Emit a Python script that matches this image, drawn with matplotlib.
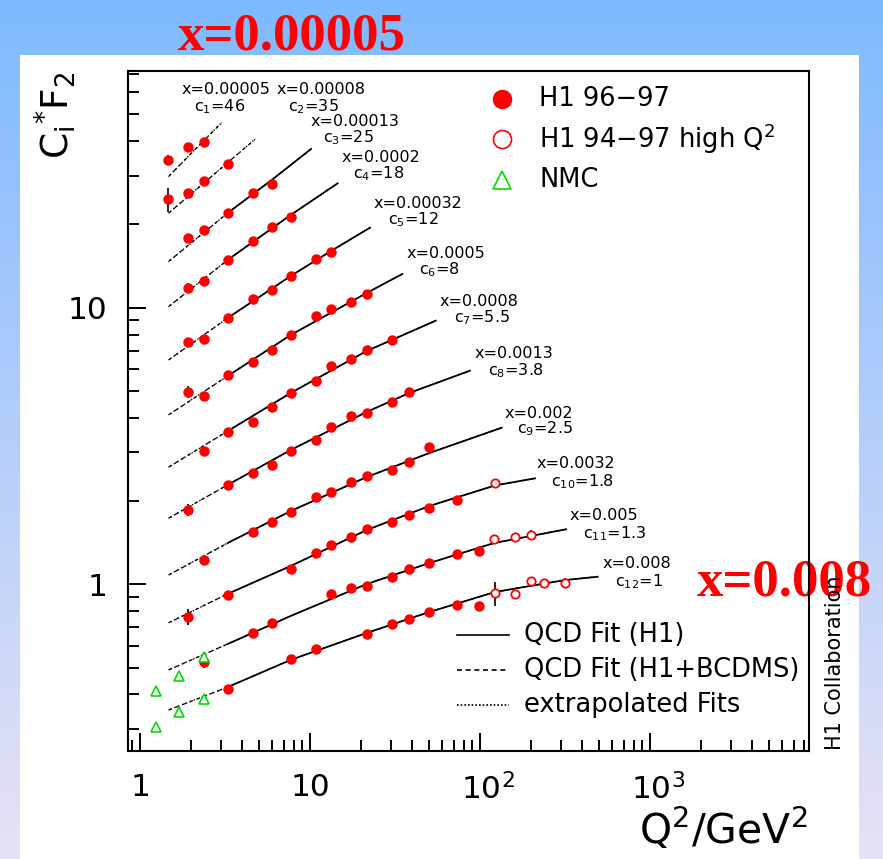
import numpy as np
import matplotlib
matplotlib.use("Agg")
import matplotlib.pyplot as plt
from matplotlib import transforms
from matplotlib.lines import Line2D
from matplotlib.patches import Rectangle

plt.rcParams["font.family"] = ["DejaVu Sans"]
plt.rcParams["mathtext.default"] = "regular"

W, H, DPI = 883, 859, 100

# ---------------- data ----------------
x_bins = ["0.00005", "0.00008", "0.00013", "0.0002", "0.00032", "0.0005",
          "0.0008", "0.0013", "0.002", "0.0032", "0.005", "0.008"]
c_factors = [46, 35, 25, 18, 12, 8, 5.5, 3.8, 2.5, 1.8, 1.3, 1]
c_labels = ["46", "35", "25", "18", "12", "8", "5.5", "3.8", "2.5", "1.8", "1.3", "1"]

# H1 96-97 (Q2 in GeV^2, F2 unscaled, relative error)
h1_q2 = [
    [1.47, 1.92, 2.39],
    [1.47, 1.92, 2.39, 3.28],
    [1.92, 2.39, 3.28, 4.64, 5.95],
    [1.92, 2.39, 3.28, 4.64, 5.95, 7.70],
    [1.92, 2.39, 3.28, 4.64, 5.95, 7.70, 10.8, 13.3],
    [1.92, 2.39, 3.28, 4.64, 5.95, 7.70, 10.8, 13.3, 17.4, 21.6],
    [2.39, 3.28, 4.64, 5.95, 7.70, 10.8, 13.3, 17.4, 21.6, 30.2],
    [1.92, 3.28, 4.64, 5.95, 7.70, 10.8, 13.3, 17.4, 21.6, 30.2, 38.4],
    [2.39, 4.64, 5.95, 7.70, 10.8, 13.3, 17.4, 21.6, 30.2, 38.4, 50.3],
    [1.92, 3.28, 7.70, 10.8, 13.3, 17.4, 21.6, 30.2, 38.4, 50.3, 73.6],
    [2.39, 4.64, 5.95, 13.3, 17.4, 21.6, 30.2, 38.4, 50.3, 73.6, 99.1],
    [3.28, 7.70, 10.8, 21.6, 30.2, 38.4, 50.3, 73.6, 99.1],
]
h1_f2 = [
    [0.743, 0.831, 0.866],
    [0.705, 0.744, 0.823, 0.943],
    [0.716, 0.764, 0.882, 1.037, 1.117],
    [0.656, 0.694, 0.827, 0.968, 1.091, 1.185],
    [0.628, 0.641, 0.763, 0.893, 0.966, 1.088, 1.245, 1.328],
    [0.621, 0.601, 0.714, 0.793, 0.879, 0.996, 1.162, 1.236, 1.314, 1.398],
    [0.552, 0.648, 0.704, 0.797, 0.896, 0.990, 1.122, 1.186, 1.279, 1.392],
    [0.488, 0.602, 0.663, 0.711, 0.798, 0.875, 0.972, 1.071, 1.098, 1.203, 1.301],
    [0.490, 0.620, 0.674, 0.728, 0.826, 0.865, 0.938, 0.986, 1.036, 1.110, 1.258],
    [0.424, 0.508, 0.630, 0.723, 0.771, 0.822, 0.878, 0.935, 0.989, 1.051, 1.121],
    [0.404, 0.512, 0.559, 0.708, 0.744, 0.758, 0.819, 0.872, 0.918, 0.990, 1.018],
    [0.417, 0.537, 0.582, 0.661, 0.718, 0.747, 0.796, 0.845, 0.836],
]
h1_err = [
    [0.04, 0.02, 0.02],
    [0.10, 0.02, 0.02, 0.02],
    [0.02, 0.02, 0.02, 0.02, 0.02],
    [0.04, 0.02, 0.02, 0.02, 0.02, 0.02],
    [0.03, 0.02, 0.02, 0.02, 0.02, 0.02, 0.02, 0.02],
    [0.05, 0.02, 0.02, 0.02, 0.02, 0.02, 0.02, 0.02, 0.02, 0.02],
    [0.02, 0.02, 0.02, 0.02, 0.02, 0.02, 0.02, 0.02, 0.02, 0.02],
    [0.05, 0.02, 0.02, 0.02, 0.02, 0.02, 0.02, 0.02, 0.02, 0.02, 0.02],
    [0.02, 0.02, 0.02, 0.02, 0.02, 0.02, 0.02, 0.02, 0.02, 0.02, 0.02],
    [0.07, 0.02, 0.02, 0.02, 0.02, 0.02, 0.02, 0.02, 0.02, 0.02, 0.02],
    [0.05, 0.02, 0.02, 0.02, 0.02, 0.02, 0.02, 0.02, 0.02, 0.02, 0.02],
    [0.04, 0.02, 0.02, 0.02, 0.02, 0.02, 0.02, 0.02, 0.02],
]

# H1 94-97 high Q2 (bins 10-12)
hq_bin = [9, 10, 11]
hq_q2 = [
    [122.5],
    [121.4, 160.7, 198.7],
    [122.5, 160.7, 198.7, 238.9, 316.2],
]
hq_f2 = [
    [1.288],
    [1.118, 1.138, 1.160],
    [0.928, 0.920, 1.028, 1.008, 1.013],
]
hq_err = [
    [0.03],
    [0.04, 0.04, 0.04],
    [0.10, 0.04, 0.03, 0.04, 0.04],
]

# NMC (bins 11-12)
nmc_bin = [10, 11]
nmc_q2 = [[1.24, 1.70, 2.39], [1.24, 1.70, 2.39]]
nmc_f2 = [[0.317, 0.359, 0.421], [0.306, 0.345, 0.384]]
nmc_err = [[0.04, 0.04, 0.04], [0.04, 0.04, 0.04]]

# QCD fit curves (nodes along each curve)
fit_q2 = [
    [1.47, 2.10, 3.02],
    [1.47, 2.64, 4.75],
    [1.47, 3.28, 5.95, 10.14],
    [1.47, 3.28, 7.70, 14.55],
    [1.47, 3.28, 7.70, 13.29, 22.54],
    [1.47, 3.28, 7.70, 21.56, 34.91],
    [1.47, 3.28, 7.70, 21.56, 54.89],
    [1.47, 3.28, 7.70, 21.56, 38.38, 87.35],
    [1.47, 3.28, 7.70, 21.56, 50.33, 134.2],
    [1.47, 3.28, 7.70, 21.56, 50.33, 122.5, 210.6],
    [1.47, 3.28, 7.70, 21.56, 50.33, 121.4, 320.5],
    [1.47, 3.28, 7.70, 21.56, 50.33, 122.5, 316.2, 492.5],
]
fit_f2 = [
    [0.647, 0.810, 1.014],
    [0.627, 0.853, 1.161],
    [0.587, 0.880, 1.158, 1.499],
    [0.560, 0.827, 1.202, 1.565],
    [0.539, 0.765, 1.085, 1.336, 1.622],
    [0.512, 0.708, 0.996, 1.413, 1.655],
    [0.482, 0.651, 0.894, 1.268, 1.632],
    [0.456, 0.602, 0.805, 1.105, 1.294, 1.558],
    [0.432, 0.564, 0.736, 0.977, 1.193, 1.473],
    [0.403, 0.513, 0.647, 0.873, 1.066, 1.265, 1.342],
    [0.377, 0.468, 0.591, 0.771, 0.918, 1.085, 1.216],
    [0.351, 0.425, 0.533, 0.667, 0.794, 0.938, 1.036, 1.065],
]
fit_q2_min = 3.28  # fit region starts here; below it the curves are extrapolated

# ---------------- layout helpers ----------------
def fx(px):
    return px / W


def fy(py):
    return 1 - py / H


fig = plt.figure(figsize=(W / DPI, H / DPI), dpi=DPI)

# backdrop: vertical blue-to-lavender gradient and white panel
bg = fig.add_axes([0, 0, 1, 1], zorder=-5)
bg.set_axis_off()
t = np.linspace(0, 1, 256)[:, None, None]
top_c = np.array([126, 186, 255]) / 255
bot_c = np.array([232, 226, 246]) / 255
bg.imshow(top_c + (bot_c - top_c) * t, aspect="auto", extent=[0, 1, 0, 1],
          origin="upper")
bg.add_patch(Rectangle((fx(20), 0), fx(859) - fx(20), fy(55), color="white",
                       lw=0))
bg.set_xlim(0, 1)
bg.set_ylim(0, 1)
red_kw = dict(fontsize=38, family="Liberation Serif", weight="bold",
              color="red", ha="left", va="baseline")
bg.text(fx(178), fy(50), "x=0.00005", **red_kw)
bg.text(fx(697), fy(595), "x=0.008", **red_kw)

# main axes
ax = fig.add_axes([fx(128), fy(751), fx(809) - fx(128), fy(71) - fy(751)],
                  zorder=1)
ax.set_facecolor("none")
ax.set_xscale("log")
ax.set_yscale("log")
ax.set_xlim(10 ** ((128 - 140) / 170), 10 ** ((809 - 140) / 170))
ax.set_ylim(10 ** ((584.3 - 751) / 276.6), 10 ** ((584.3 - 71) / 276.6))
for s in ax.spines.values():
    s.set_linewidth(1.5)
ax.tick_params(which="both", direction="in", top=False, right=False,
               width=1.4)
ax.tick_params(which="major", length=13)
ax.tick_params(which="minor", length=8)
ax.xaxis.set_major_locator(matplotlib.ticker.LogLocator(base=10, numticks=10))
ax.xaxis.set_minor_locator(matplotlib.ticker.LogLocator(
    base=10, subs=np.arange(2, 10), numticks=10))
ax.yaxis.set_major_locator(matplotlib.ticker.FixedLocator([1, 10]))
ax.yaxis.set_minor_locator(matplotlib.ticker.LogLocator(
    base=10, subs=np.arange(2, 10), numticks=10))
ax.yaxis.set_major_formatter(matplotlib.ticker.FixedFormatter(["1", "10"]))
ax.yaxis.set_minor_formatter(matplotlib.ticker.NullFormatter())
ax.tick_params(axis="y", labelsize=22.5, pad=15)
ax.xaxis.set_major_formatter(matplotlib.ticker.NullFormatter())
ax.xaxis.set_minor_formatter(matplotlib.ticker.NullFormatter())

# x tick labels: the "10" stays centred on the tick, the exponent hangs right
xt = ax.get_xaxis_transform()
for val, lab, centred in [(1, "1", True), (10, "10", True),
                          (100, r"$10^{2}$", False), (1000, r"$10^{3}$", False)]:
    if centred:
        ax.text(val, -0.032, lab, transform=xt, ha="center", va="top",
                fontsize=22.5)
    else:
        tr = transforms.offset_copy(xt, fig=fig, x=-19, y=0, units="dots")
        ax.text(val, -0.032, lab, transform=tr, ha="left", va="top",
                fontsize=22.5)

# fit curves: H1+BCDMS dashed over the whole range, H1 solid in the fit
# region, dotted where extrapolated
for i in range(len(x_bins)):
    q = np.array(fit_q2[i])
    f = np.array(fit_f2[i]) * c_factors[i]
    ax.plot(q, f, color="black", lw=0.9, ls=(0, (3, 3)), zorder=2)
    if i >= 2:
        k = np.searchsorted(q, fit_q2_min)
        ax.plot(q[k:], f[k:], color="black", lw=1.3, ls="-", zorder=2)
        ax.plot(q[:k + 1], f[:k + 1], color="black", lw=1.0, ls=(1.5, (1, 2)),
                zorder=2)
    else:
        ax.plot(q, f, color="black", lw=1.0, ls=(1.5, (1, 2)), zorder=2)

# H1 96-97 points
for i in range(len(x_bins)):
    v = np.array(h1_f2[i]) * c_factors[i]
    e = v * np.array(h1_err[i])
    ax.errorbar(h1_q2[i], v, yerr=e, fmt="o", ms=6.5, color="red",
                mec="red", ecolor="black", elinewidth=1.2, capsize=0,
                zorder=4)

# H1 94-97 high Q2 points
for j, i in enumerate(hq_bin):
    v = np.array(hq_f2[j]) * c_factors[i]
    e = v * np.array(hq_err[j])
    ax.errorbar(hq_q2[j], v, yerr=e, fmt="o", ms=6, mfc="white", mec="red",
                mew=1.3, ecolor="black", elinewidth=1.2, capsize=0, zorder=4)

# NMC points
for j, i in enumerate(nmc_bin):
    v = np.array(nmc_f2[j]) * c_factors[i]
    e = v * np.array(nmc_err[j])
    ax.errorbar(nmc_q2[j], v, yerr=e, fmt="^", ms=6.5, mfc="white",
                mec="#00dd00", mew=1.2, ecolor="black", elinewidth=1.2,
                capsize=0, zorder=4)

# curve labels
label_pos = [(182, 90, 194, 107), (277, 90, 288, 107), (311, 121, 323, 138),
             (342, 157, 353, 174), (374, 204, 388, 220), (407, 253, 419, 270),
             (440, 301, 454, 318), (475, 353, 488, 371), (505, 413, 517, 429),
             (537, 463, 551, 482), (570, 516, 583, 534), (603, 563, 615, 582)]
for i, (x1, y1, x2, y2) in enumerate(label_pos):
    fig.text(fx(x1), fy(y1), "x=" + x_bins[i], fontsize=11.5, ha="left",
             va="center")
    fig.text(fx(x2), fy(y2), r"c$_{%d}$=%s" % (i + 1, c_labels[i]),
             fontsize=11.5, ha="left", va="center")

# legend: data sets
leg_fs = 18.5
fig.add_artist(Line2D([fx(502)], [fy(99)], marker="o", ms=13, color="red",
                      transform=fig.transFigure))
fig.add_artist(Line2D([fx(502)], [fy(139)], marker="o", ms=13, mfc="white",
                      mec="red", mew=1.2, transform=fig.transFigure))
fig.add_artist(Line2D([fx(502)], [fy(180)], marker="^", ms=13, mfc="white",
                      mec="#00dd00", mew=1.2, transform=fig.transFigure))
fig.text(fx(539), fy(99), "H1 96\u221297", fontsize=leg_fs, va="center")
fig.text(fx(539), fy(139), "H1 94\u221297 high Q$^{2}$", fontsize=leg_fs,
         va="center")
fig.text(fx(539), fy(180), "NMC", fontsize=leg_fs, va="center")

# legend: fit line styles
for py, ls, lab in [(635, "-", "QCD Fit (H1)"),
                    (670, (0, (3, 2.2)), "QCD Fit (H1+BCDMS)"),
                    (705, (0, (1, 1.2)), "extrapolated Fits")]:
    fig.add_artist(Line2D([fx(457), fx(509)], [fy(py), fy(py)], color="black",
                          lw=1.2, ls=ls, transform=fig.transFigure))
    fig.text(fx(524), fy(py), lab, fontsize=leg_fs, va="center")

# axis titles
fig.text(fx(55), fy(115), r"$C_{i}{}^{*}F_{2}$", rotation=90, fontsize=27,
         ha="center", va="center")
fig.text(fx(808), fy(844), r"$Q^{2}/GeV^{2}$", fontsize=29.5, ha="right",
         va="baseline")
fig.text(fx(835), fy(750), "H1 Collaboration", rotation=90, fontsize=15,
         ha="center", va="bottom")

fig.savefig("out.png", dpi=DPI)
